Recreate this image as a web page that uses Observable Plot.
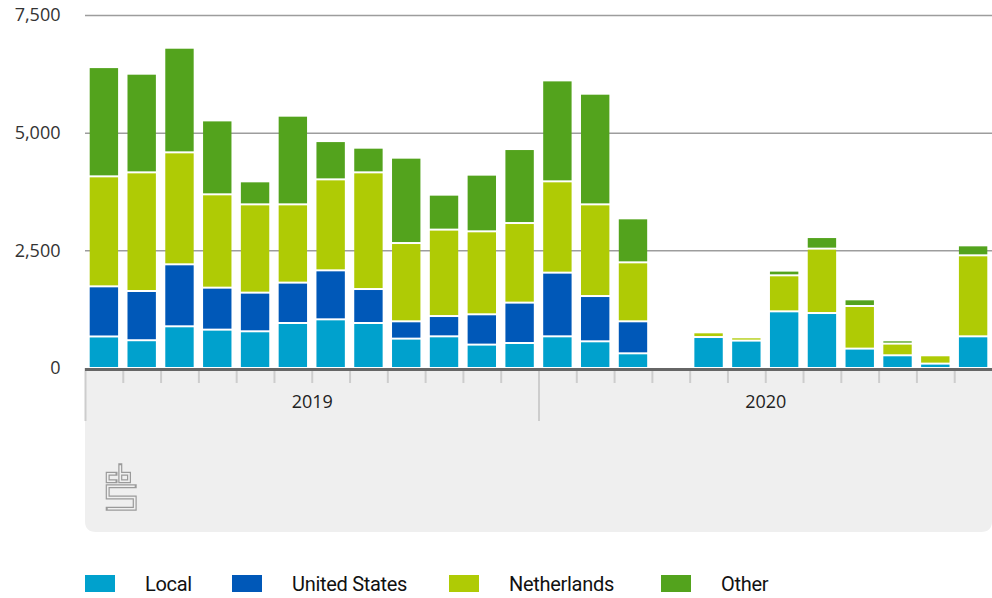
<!DOCTYPE html>
<html>
<head>
<meta charset="utf-8">
<script src="https://cdn.jsdelivr.net/npm/d3@7"></script>
<script src="https://cdn.jsdelivr.net/npm/@observablehq/plot@0.6"></script>
<style>
  html, body { margin: 0; padding: 0; background: #fff; }
  #wrap { position: relative; width: 992px; height: 598px; overflow: hidden; }
  #chart svg { display: block; background: transparent; }
  .leg-item { position: absolute; top: 573px; height: 22px; font-family: Roboto, "Open Sans", sans-serif; font-size: 20px; letter-spacing: -0.3px; color: #111; line-height: 22px; white-space: nowrap; }
  .leg-sw { position: absolute; top: 2px; width: 30px; height: 17px; }
</style>
</head>
<body>
<div id="wrap">
  <div id="chart"></div>
  <div id="legend"></div>
</div>
<script>
// ---- data ----
const years = ["2019", "2020"];
const seriesNames = ["Local", "United States", "Netherlands", "Other"];
const seriesColors = ["#00a1cd", "#0058b8", "#afcb05", "#53a31d"];
const yTicks = [0, 2500, 5000, 7500];

// 24 months: Jan 2019 .. Dec 2020
const local =        [670, 590, 886, 815, 780, 956, 1034, 956, 624, 673, 497, 531,  673, 567, 312, 0, 658, 582, 1204, 1168, 412, 270, 93, 673];
const unitedStates = [1065, 1046, 1317, 892, 821, 858, 1041, 722, 368, 431, 644, 858, 1353, 962, 680, 0, 0, 0, 0, 0, 0, 0, 0, 0];
const netherlands =  [2337, 2521, 2379, 1983, 1876, 1663, 1933, 2479, 1663, 1836, 1763, 1691, 1940, 1948, 1253, 0, 100, 70, 765, 1368, 905, 248, 177, 1721];
const other =        [2321, 2096, 2223, 1571, 489, 1884, 813, 524, 1814, 743, 1204, 1572, 2145, 2351, 935, 0, 0, 0, 100, 246, 142, 70, 0, 212];

// ---- build table ----
const seriesValues = [local, unitedStates, netherlands, other];
const rows = [];
for (let i = 0; i < local.length; i++) {
  seriesNames.forEach((s, k) => {
    const v = seriesValues[k][i];
    if (v > 0) rows.push({ i, series: s, value: v });
  });
}
const nMonths = local.length;
const monthBounds = d3.range(1, nMonths).filter(d => d % 12 !== 0);
const yearBounds = d3.range(0, nMonths, 12);
const yearMids = years.map((y, k) => k * 12 + 6);

const axisFont = "'Open Sans', 'DejaVu Sans', sans-serif";

const chart = Plot.plot({
  width: 992,
  height: 540,
  marginLeft: 85,
  marginRight: 0,
  marginTop: 15,
  marginBottom: 172,
  style: { fontFamily: axisFont, background: "transparent" },
  x: { type: "linear", domain: [0, nMonths], label: null },
  y: { domain: [0, 7500], label: null },
  color: { domain: seriesNames, range: seriesColors },
  marks: [
    Plot.ruleY(yTicks.filter(d => d > 0), { stroke: "#9d9d9d", strokeWidth: 1.5 }),
    Plot.rectY(rows, {
      x: "i", interval: 1, y: "value", fill: "series",
      insetLeft: 4.7, insetRight: 4.7, insetTop: 1, insetBottom: 1
    }),
    Plot.axisX({ ticks: monthBounds, tickSize: 15, tickFormat: () => "", stroke: "#cdcdcd", strokeWidth: 2, label: null }),
    Plot.axisX({ ticks: yearBounds, tickSize: 53, tickFormat: () => "", stroke: "#cdcdcd", strokeWidth: 2, label: null }),
    Plot.axisX({ ticks: yearMids, tickSize: 0, tickPadding: 27, tickFormat: d => years[(d - 6) / 12], fontSize: 18, fill: "#222", label: null }),
    Plot.axisY({ ticks: yTicks, tickSize: 0, tickPadding: 25, tickFormat: d3.format(","), fontSize: 18, fill: "#333", label: null }),
    Plot.ruleY([0], { stroke: "#666", strokeWidth: 3, dy: 1 })
  ]
});

// grey band under the axis (decoration)
const svg = d3.select(chart);
svg.insert("path", ":first-child")
  .attr("d", "M85,370 H992 V521 Q992,532 981,532 H96 Q85,532 85,521 Z")
  .attr("fill", "#efefef");

// cbs logo (decoration)
const logo = svg.append("g").attr("fill", "none").attr("stroke-linejoin", "miter");
const logoPaths = [
  "M115.5,473.7 H107.7 V481.3 H115.5",
  "M120.3,465.3 V481.3 H129 V473.7 H120.3",
  "M134.7,486.3 H107.7 V497.5 H134.7 V508.7 H107.7"
];
logoPaths.forEach(d => {
  logo.append("path").attr("d", d).attr("stroke", "#9a9a9a").attr("stroke-width", 4).attr("stroke-linecap", "square");
});
logoPaths.forEach(d => {
  logo.append("path").attr("d", d).attr("stroke", "#efefef").attr("stroke-width", 1.6).attr("stroke-linecap", "butt");
});

document.getElementById("chart").appendChild(chart);

// legend
const legendX = [85, 232, 449, 661];
const legend = document.getElementById("legend");
seriesNames.forEach((s, k) => {
  const item = document.createElement("div");
  item.className = "leg-item";
  item.style.left = legendX[k] + "px";
  const sw = document.createElement("div");
  sw.className = "leg-sw";
  sw.style.background = seriesColors[k];
  sw.style.left = "0px";
  const tx = document.createElement("span");
  tx.textContent = s;
  tx.style.position = "absolute";
  tx.style.left = "60px";
  tx.style.top = "0px";
  item.appendChild(sw);
  item.appendChild(tx);
  legend.appendChild(item);
});
</script>
</body>
</html>
